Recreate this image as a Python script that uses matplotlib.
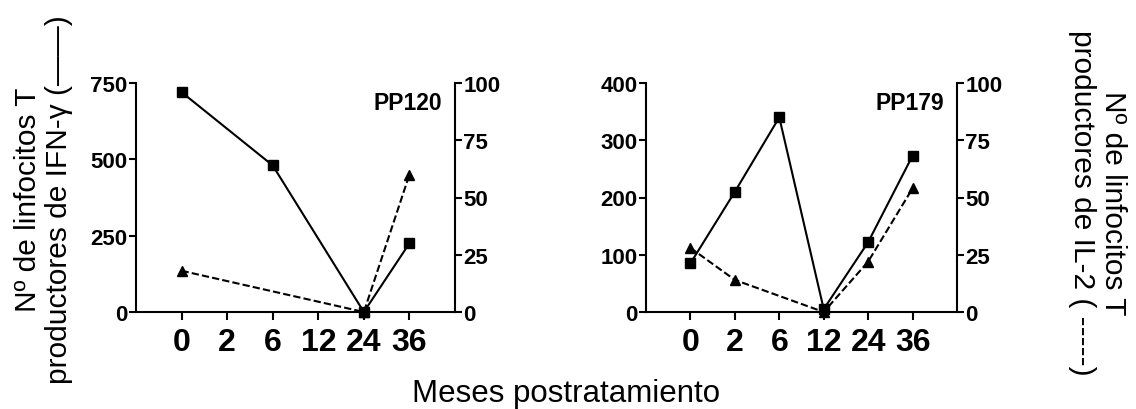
import numpy as np
import matplotlib
matplotlib.use("Agg")
import matplotlib.pyplot as plt

plt.rcParams['font.family'] = ['Liberation Sans', 'DejaVu Sans']

# Months after treatment (categorical, evenly spaced)
months = ["0", "2", "6", "12", "24", "36"]

# PP120: IFN-gamma producing T cells (left axis) and IL-2 producing T cells (right axis)
pp120_ifn = [720, None, 480, None, 0, 225]
pp120_il2 = [18, None, None, None, 0, 60]

# PP179
pp179_ifn = [85, 210, 340, 5, 122, 273]
pp179_il2 = [28, 14, None, 0, 22, 54]

left_ticks_pp120 = [0, 250, 500, 750]
left_ticks_pp179 = [0, 100, 200, 300, 400]
right_ticks = [0, 25, 50, 75, 100]

W, H = 1136, 410
fig = plt.figure(figsize=(W / 100, H / 100), dpi=100)

LW = 1.5


def present(vals):
    idx = [i for i, v in enumerate(vals) if v is not None]
    return idx, [vals[i] for i in idx]


def panel(rect, ifn, il2, lticks, name):
    ax = fig.add_axes(rect)
    ax2 = ax.twinx()
    ax.set_xlim(-1, len(months))
    ax.set_ylim(lticks[0], lticks[-1])
    ax2.set_ylim(right_ticks[0], right_ticks[-1])

    x, y = present(ifn)
    ax.plot(x, y, color='black', lw=LW, marker='s', ms=7, clip_on=False, zorder=3)
    x2, y2 = present(il2)
    ax2.plot(x2, y2, color='black', lw=LW, ls=(0, (3.5, 1.5)), marker='^', ms=6.5,
             clip_on=False, zorder=3)

    ax.set_xticks(range(len(months)))
    ax.set_xticklabels(months, fontsize=23, fontweight='bold')
    ax.set_yticks(lticks)
    ax.set_yticklabels([str(t) for t in lticks], fontsize=16, fontweight='bold')
    ax2.set_yticks(right_ticks)
    ax2.set_yticklabels([str(t) for t in right_ticks], fontsize=16, fontweight='bold')

    for a in (ax, ax2):
        a.spines['top'].set_visible(False)
        for s in a.spines.values():
            s.set_linewidth(LW)
        a.patch.set_visible(False)
    ax.spines['right'].set_visible(False)
    ax2.spines['left'].set_visible(False)
    ax2.spines['bottom'].set_visible(False)

    ax.tick_params(axis='x', direction='out', length=6, width=LW, pad=5)
    ax.tick_params(axis='y', direction='out', length=5, width=LW, pad=1)
    ax2.tick_params(axis='y', direction='out', length=5, width=LW, pad=1)

    ax.text(0.96, 0.915, name, transform=ax.transAxes, ha='right', va='center',
            fontsize=16.5, fontweight='bold')
    return ax, ax2


bottom = 1 - 313 / H
top = 1 - 84 / H
panel([136 / W, bottom, (455 - 136) / W, top - bottom], pp120_ifn, pp120_il2,
      left_ticks_pp120, "PP120")
panel([646 / W, bottom, (957 - 646) / W, top - bottom], pp179_ifn, pp179_il2,
      left_ticks_pp179, "PP179")

fig.text(0.038, 0.512, "Nº de linfocitos T\nproductores de IFN-γ (——)",
         rotation=90, ha='center', va='center', fontsize=21.5, linespacing=1.15)
fig.text(0.966, 0.505, "Nº de linfocitos T\nproductores de IL-2 ( -----)",
         rotation=270, ha='center', va='center', fontsize=21.5, linespacing=1.15)
fig.text(0.498, 0.038, "Meses postratamiento", ha='center', va='center', fontsize=22.5)

fig.savefig("out.png", dpi=100, facecolor='white')
